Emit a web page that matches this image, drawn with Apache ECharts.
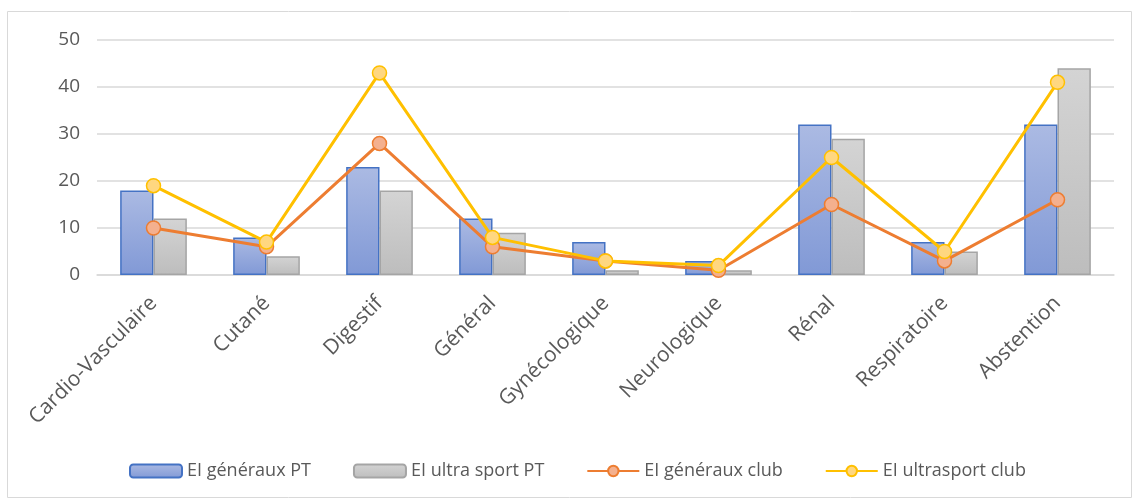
<!DOCTYPE html>
<html>
<head>
<meta charset="utf-8">
<script src="https://cdn.jsdelivr.net/npm/echarts@6/dist/echarts.min.js"></script>
<style>html,body{margin:0;padding:0;background:#fff;}#c{width:1135px;height:500px;}</style>
</head>
<body>
<div id="c"></div>
<script>
const categories = ['Cardio-Vasculaire','Cutané','Digestif','Général','Gynécologique','Neurologique','Rénal','Respiratoire','Abstention'];
const eiGenerauxPT = [18, 8, 23, 12, 7, 3, 32, 7, 32];
const eiUltraSportPT = [12, 4, 18, 9, 1, 1, 29, 5, 44];
const eiGenerauxClub = [10, 6, 28, 6, 3, 1, 15, 3, 16];
const eiUltrasportClub = [19, 7, 43, 8, 3, 2, 25, 5, 41];
const seriesNames = ['EI généraux PT','EI ultra sport PT','EI généraux club','EI ultrasport club'];

const font = '"Open Sans", "Noto Sans", sans-serif';
const chart = echarts.init(document.getElementById('c'));
chart.setOption({
  animation: false,
  textStyle: { fontFamily: font },
  graphic: [{
    type: 'rect', shape: { x: 7.5, y: 11.5, width: 1124, height: 486 },
    style: { fill: 'none', stroke: '#d9d9d9', lineWidth: 1 }, silent: true, z: -1
  }],
  grid: { left: 97, right: 21, top: 40, bottom: 225, containLabel: false },
  legend: {
    top: 457, left: 124, itemGap: 42, itemWidth: 52, itemHeight: 13,
    textStyle: { color: '#595959', fontSize: 18, fontFamily: font },
    data: seriesNames
  },
  xAxis: {
    type: 'category', data: categories,
    axisLine: { show: true, lineStyle: { color: '#d9d9d9', width: 1.5 } },
    axisTick: { show: false },
    axisLabel: { rotate: 45, color: '#595959', fontSize: 21, margin: 25, interval: 0, fontFamily: font }
  },
  yAxis: {
    type: 'value', min: 0, max: 50, interval: 10,
    axisLine: { show: false }, axisTick: { show: false },
    splitLine: { lineStyle: { color: '#d9d9d9', width: 1.5 } },
    axisLabel: { color: '#595959', fontSize: 19, margin: 17, fontFamily: font }
  },
  series: [
    {
      name: seriesNames[0], type: 'bar', data: eiGenerauxPT, barGap: '0%', barCategoryGap: '41%',
      itemStyle: {
        color: new echarts.graphic.LinearGradient(0, 0, 0, 1, [{ offset: 0, color: '#abbae3' }, { offset: 1, color: '#8199d6' }]),
        borderColor: '#4472c4', borderWidth: 1.5
      }
    },
    {
      name: seriesNames[1], type: 'bar', data: eiUltraSportPT,
      itemStyle: {
        color: new echarts.graphic.LinearGradient(0, 0, 0, 1, [{ offset: 0, color: '#d4d4d4' }, { offset: 1, color: '#bdbdbd' }]),
        borderColor: '#a5a5a5', borderWidth: 1.5
      }
    },
    {
      name: seriesNames[2], type: 'line', data: eiGenerauxClub, symbol: 'circle', symbolSize: 14,
      lineStyle: { color: '#ed7d31', width: 3 },
      itemStyle: { color: '#f4b08e', borderColor: '#ed7d31', borderWidth: 1.5 }, z: 3
    },
    {
      name: seriesNames[3], type: 'line', data: eiUltrasportClub, symbol: 'circle', symbolSize: 14,
      lineStyle: { color: '#ffc000', width: 3 },
      itemStyle: { color: '#ffd780', borderColor: '#ffc000', borderWidth: 1.5 }, z: 4
    }
  ]
});
</script>
</body>
</html>
